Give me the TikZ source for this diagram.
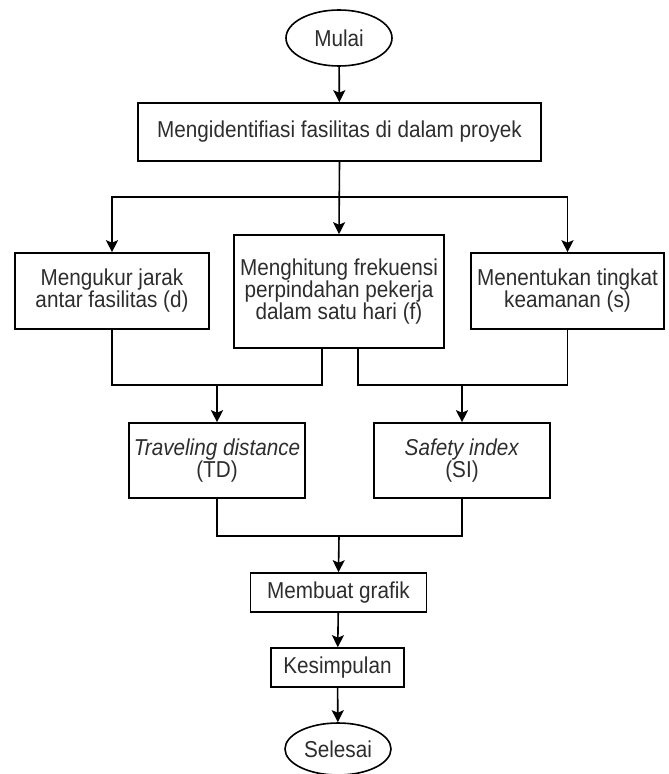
\documentclass[tikz,border=0pt]{standalone}
\usepackage{fontspec}
\setmainfont[FakeStretch=0.9]{Liberation Sans}
\usetikzlibrary{arrows.meta,shapes.geometric}
\definecolor{txt}{RGB}{45,45,45}
\begin{document}
\begin{tikzpicture}[x=1pt,y=-1pt,
  base/.style={draw=black, line width=1.6pt, align=center, inner sep=0pt, text=txt,
    font=\fontsize{23}{22}\selectfont},
  box/.style={base, rectangle},
  term/.style={base, ellipse, minimum width=106pt},
  arr/.style={line width=1.6pt, -{Stealth[length=12pt,width=12pt,inset=2.5pt]}},
  ln/.style={line width=1.6pt}]
\useasboundingbox (0,0) rectangle (669,774);

\node[term, minimum height=56pt] (mulai) at (339,38) {Mulai};
\node[box, minimum width=403pt, minimum height=58pt] (ident) at (339.5,132) {Mengidentifiasi fasilitas di dalam proyek};
\node[box, minimum width=194pt, minimum height=76pt] (left) at (112,291) {Mengukur jarak\\antar fasilitas (d)};
\node[box, minimum width=210pt, minimum height=113pt] (mid) at (339,291.5) {Menghitung frekuensi\\perpindahan pekerja\\dalam satu hari (f)};
\node[box, minimum width=193pt, minimum height=76pt] (right) at (567.5,291) {Menentukan tingkat\\keamanan (s)};
\node[box, minimum width=176pt, minimum height=75pt] (td) at (217,460.5) {\textit{Traveling distance}\\(TD)};
\node[box, minimum width=176pt, minimum height=75pt] (si) at (462,460.5) {\textit{Safety index}\hspace{16pt}\\(SI)};
\node[box, minimum width=176pt, minimum height=39pt] (grafik) at (338.5,592.5) {Membuat grafik};
\node[box, minimum width=133pt, minimum height=39pt] (kes) at (337.5,667.5) {Kesimpulan};
\node[term, minimum height=52pt] (selesai) at (338,749) {Selesai};

\coordinate (split) at (339,197);
\coordinate (j1) at (322,385);
\coordinate (j2) at (358,385);
\coordinate (a1) at (217,385);
\coordinate (a2) at (462,385);
\coordinate (j3) at (339,536);

\draw[arr] (mulai) -- (ident);
\draw[arr] (ident.south) -- (mid.north);
\draw[arr] (split) -| (left.north);
\draw[arr] (split) -| (right.north);

\draw[ln] (left.south) |- (j1) -- (j1 |- mid.south);
\draw[ln] (right.south) |- (j2) -- (j2 |- mid.south);
\draw[arr] (a1) -- (td.north);
\draw[arr] (a2) -- (si.north);

\draw[ln] (td.south) |- (j3) -| (si.south);
\draw[arr] (j3) -- (grafik.north);
\draw[arr] (grafik) -- (kes);
\draw[arr] (kes) -- (selesai);
\end{tikzpicture}
\end{document}
